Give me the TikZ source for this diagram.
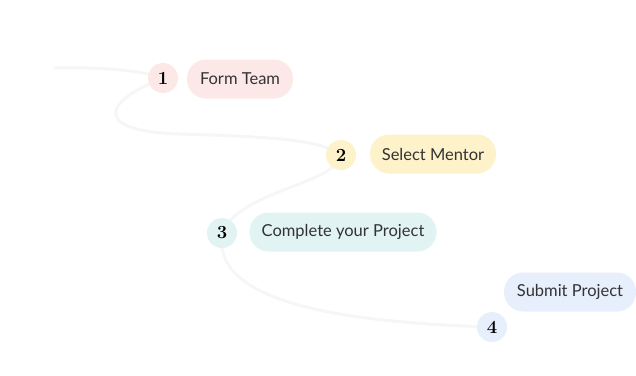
\documentclass[tikz,border=0pt]{standalone}
\usepackage{fontspec}
\setmainfont{Lato}
\usetikzlibrary{backgrounds}

\definecolor{pinkbg}{HTML}{FDE8E8}
\definecolor{yellowbg}{HTML}{FDF2C9}
\definecolor{tealbg}{HTML}{E1F3F3}
\definecolor{bluebg}{HTML}{E7EFFC}
\definecolor{trail}{HTML}{F6F6F6}
\definecolor{ink}{HTML}{333333}

\tikzset{
    num/.style={circle, minimum size=30pt, inner sep=0pt, text=black,
        font=\fontspec{Latin Modern Roman}\bfseries\fontsize{18.5}{18}\selectfont},
    pill/.style={rounded corners=19pt, minimum height=39pt, inner xsep=6pt, text=ink,
        font=\fontsize{16.5}{17}\selectfont},
}

\begin{document}
\begin{tikzpicture}[x=1pt, y=-1pt]
        \useasboundingbox (0, 0) rectangle (636, 375);

        % steps
        \node[num, fill=pinkbg] (n1) at (163, 78) {1};
        \node[pill, fill=pinkbg, minimum width=106pt] (l1) at (240, 79) {Form Team};

        \node[num, fill=yellowbg] (n2) at (341, 155) {2};
        \node[pill, fill=yellowbg, minimum width=126pt] (l2) at (433, 154) {Select Mentor};

        \node[num, fill=tealbg] (n3) at (222, 233) {3};
        \node[pill, fill=tealbg, minimum width=187pt] (l3) at (343, 232) {Complete your Project};

        \node[num, fill=bluebg] (n4) at (492, 327) {4};
        \node[pill, fill=bluebg, minimum width=132pt] (l4) at (570, 292) {Submit Project};

        \coordinate (start) at (55, 68);

        % the winding trail behind the steps
        \begin{pgfonlayer}{background}
        \draw[trail, line width=3pt, line cap=round]
            (start) .. controls (100, 67) and (140, 70) .. (n1.center)
            .. controls (95, 105) and (100, 132) .. (180, 134)
            .. controls (280, 137) and (320, 140) .. (n2.center)
            .. controls (335, 185) and (240, 190) .. (n3.center)
            .. controls (212, 300) and (330, 322) .. (n4.center);
        \end{pgfonlayer}
\end{tikzpicture}
\end{document}
